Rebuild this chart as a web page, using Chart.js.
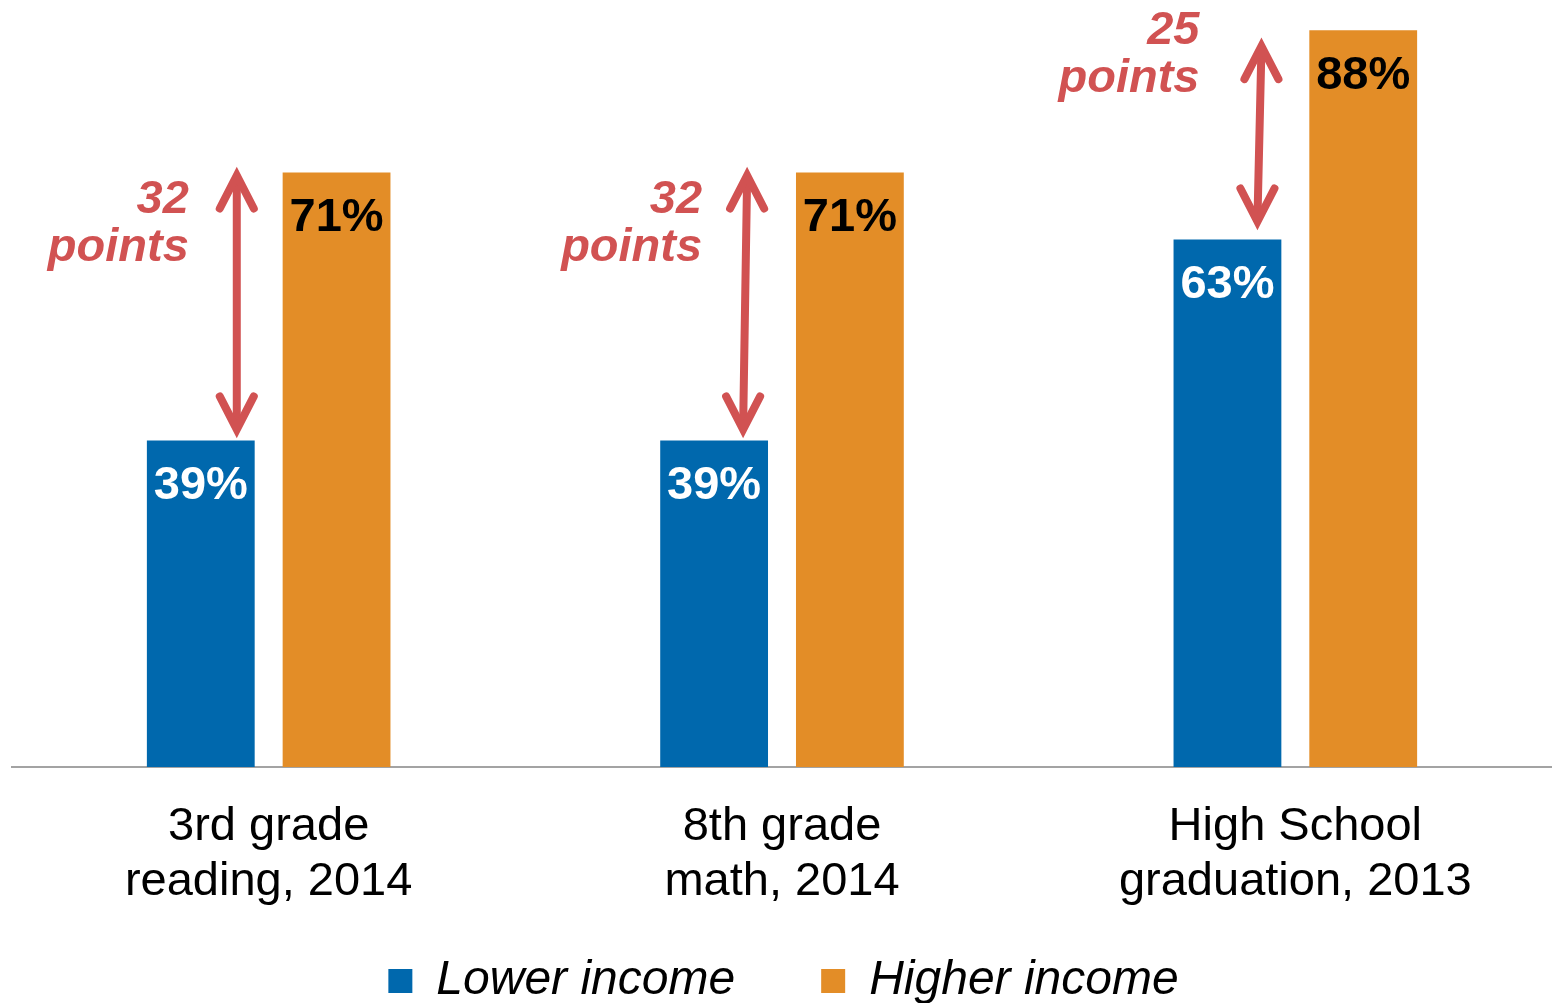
<!DOCTYPE html>
<html><head><meta charset="utf-8">
<script src="https://cdn.jsdelivr.net/npm/chart.js@4"></script>
<style>html,body{margin:0;padding:0;background:#fff;overflow:hidden}#wrap{width:1552px;height:1003px;position:relative}</style>
</head><body><div id="wrap"><canvas id="c"></canvas></div>
<script>
// ---- data ----
const categories = [['3rd grade', 'reading, 2014'], ['8th grade', 'math, 2014'], ['High School', 'graduation, 2013']];
const seriesNames = ['Lower income', 'Higher income'];
const lowerIncome = [39, 39, 63];
const higherIncome = [71, 71, 88];
const gapUnit = 'points';

// ---- styles ----
const BLUE = '#0068AD';
const ORANGE = '#E38D27';
const RED = '#D15252';
const FONT = "'Liberation Sans', Arial, sans-serif";

// per-group annotation placement (pixel offsets relative to the lower-income bar)
const annotStyle = [
  {topDx: 36, botDx: 36, topDy: -6, botDy: -2, textDx: -12, textDy: 41},
  {topDx: 33, botDx: 29, topDy: -6, botDy: -2, textDx: -12, textDy: 41},
  {topDx: 34, botDx: 30, topDy: 7, botDy: -9, textDx: -28, textDy: 14}
];

const annotPlugin = {
  id: 'annot',
  afterDatasetsDraw(chart) {
    const ctx = chart.ctx;
    const y = chart.scales.y;
    const lowMeta = chart.getDatasetMeta(0);
    const highMeta = chart.getDatasetMeta(1);
    // value labels
    ctx.save();
    ctx.font = 'bold 47px ' + FONT;
    ctx.textAlign = 'center';
    ctx.textBaseline = 'alphabetic';
    lowMeta.data.forEach((bar, i) => {
      ctx.fillStyle = '#ffffff';
      ctx.fillText(lowerIncome[i] + '%', bar.x, bar.y + 59);
    });
    highMeta.data.forEach((bar, i) => {
      ctx.fillStyle = '#000000';
      ctx.fillText(higherIncome[i] + '%', bar.x, bar.y + 59);
    });
    ctx.restore();

    // gap arrows
    lowMeta.data.forEach((bar, i) => {
      const s = annotStyle[i];
      const yHi = y.getPixelForValue(higherIncome[i]);
      const yLo = y.getPixelForValue(lowerIncome[i]);
      const xT = bar.x + s.topDx, yT = yHi + s.topDy;
      const xB = bar.x + s.botDx, yB = yLo + s.botDy;
      const hw = 17, hh = 33, inset = 9;
      ctx.save();
      ctx.strokeStyle = RED;
      ctx.lineWidth = 8;
      ctx.lineCap = 'round';
      ctx.lineJoin = 'miter';
      ctx.beginPath();
      ctx.moveTo(xT, yT + inset + 2);
      ctx.lineTo(xB, yB - inset - 2);
      ctx.stroke();
      // top head
      ctx.beginPath();
      ctx.moveTo(xT - hw, yT + inset + hh);
      ctx.lineTo(xT, yT + inset);
      ctx.lineTo(xT + hw, yT + inset + hh);
      ctx.stroke();
      // bottom head
      ctx.beginPath();
      ctx.moveTo(xB - hw, yB - inset - hh);
      ctx.lineTo(xB, yB - inset);
      ctx.lineTo(xB + hw, yB - inset - hh);
      ctx.stroke();
      // label
      ctx.fillStyle = RED;
      ctx.font = 'italic bold 47px ' + FONT;
      ctx.textAlign = 'right';
      ctx.textBaseline = 'alphabetic';
      const tx = bar.x + s.textDx;
      const ty = yHi + s.textDy;
      ctx.fillText(String(higherIncome[i] - lowerIncome[i]), tx, ty);
      ctx.fillText(gapUnit, tx, ty + 48);
      ctx.restore();
    });
  }
};

new Chart(document.getElementById('c'), {
  type: 'bar',
  data: {
    labels: categories,
    datasets: [
      {label: seriesNames[0], data: lowerIncome, backgroundColor: BLUE, borderWidth: 0},
      {label: seriesNames[1], data: higherIncome, backgroundColor: ORANGE, borderWidth: 0}
    ]
  },
  options: {
    responsive: true,
    maintainAspectRatio: false,
    animation: false,
    devicePixelRatio: 1,
    categoryPercentage: 0.529,
    barPercentage: 0.794,
    layout: {padding: {left: 12, right: -3, top: 0, bottom: -12}},
    scales: {
      x: {
        grid: {display: false, drawTicks: false},
        border: {display: true, color: '#a3a3a3', width: 2},
        ticks: {
          color: '#000',
          font: {family: FONT, size: 47, lineHeight: 55 / 47},
          padding: 33,
          maxRotation: 0,
          autoSkip: false
        },
        afterFit(scale) { scale.height = 144; }
      },
      y: {display: false, min: 0, max: 91.6}
    },
    plugins: {
      legend: {
        position: 'bottom',
        labels: {
          boxWidth: 24,
          boxHeight: 24,
          padding: 46,
          color: '#000',
          font: {family: FONT, size: 48, style: 'italic'},
          generateLabels(chart) {
            const items = Chart.defaults.plugins.legend.labels.generateLabels(chart);
            // wider spacing after the first entry, as in the original legend
            if (items.length) items[0].text = items[0].text + '   ';
            return items;
          }
        }
      },
      tooltip: {enabled: false}
    }
  },
  plugins: [annotPlugin]
});
</script>
</body></html>
